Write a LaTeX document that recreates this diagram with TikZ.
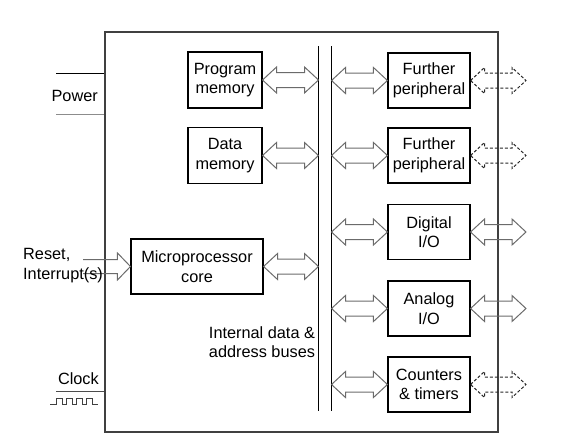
\documentclass[tikz,border=0pt]{standalone}
\usepackage{fontspec}
\setmainfont{Liberation Sans}
\usetikzlibrary{calc}
\newcommand{\dbl}[3][]{\draw[fat,#1] let \p1=#2, \p2=#3 in
  (\x1,\y1) -- ++(14pt,13pt) -- ++(0,-5.5pt) -- (\x2-14pt,\y1+7.5pt) -- ++(0,5.5pt)
  -- (\x2,\y1) -- ++(-14pt,-13pt) -- ++(0,5.5pt) -- (\x1+14pt,\y1-7.5pt) -- ++(0,-5.5pt) -- cycle;}
\tikzset{
  box/.style={draw=black, line width=1.1pt, minimum width=74pt, minimum height=56pt,
    align=center, inner sep=1pt, font=\fontsize{16.3}{19.5}\selectfont},
  rbox/.style={box, minimum width=82pt, minimum height=55pt},
  lbl/.style={font=\fontsize{16.3}{19.5}\selectfont, inner sep=0pt},
  fat/.style={draw=black!58, line width=1pt, line join=miter},
  dsh/.style={draw=black!85, dash pattern=on 3pt off 2pt},
  bus/.style={line width=1pt, black},
}
\begin{document}
\begin{tikzpicture}[x=1pt,y=-1pt]
\useasboundingbox (0,0) rectangle (571,445);
% outer chip
\node[draw=black!75, line width=1.5pt, minimum width=393pt, minimum height=400pt, inner sep=0pt] (chip) at (301.5,232) {};
% bus lines
\coordinate (bLt) at (318.5,46); \coordinate (bLb) at (318.5,411);
\coordinate (bRt) at (331.5,46); \coordinate (bRb) at (331.5,411);
\draw[bus] (bLt) -- (bLb);
\draw[bus] (bRt) -- (bRb);
% left boxes
\node[box] (pm) at (225,80) {Program\\memory};
\node[box] (dm) at (225,155.5) {Data\\memory};
\node[box, minimum width=132pt, minimum height=55pt] (core) at (197,266.5) {Microprocessor\\core};
% right boxes
\node[rbox] (fp1) at (429,80.5) {Further\\peripheral};
\node[rbox] (fp2) at (429,155.5) {Further\\peripheral};
\node[rbox] (dio) at (429,232) {Digital\\I/O};
\node[rbox] (aio) at (429,308.5) {Analog\\I/O};
\node[rbox] (ct) at (429,384.5) {Counters\\\& timers};
% internal arrows
\dbl{(pm.east)}{(bLt |- pm.east)}
\dbl{(dm.east)}{(bLt |- dm.east)}
\dbl{(core.east)}{(bLt |- core.east)}
\dbl{(bRt |- fp1.west)}{(fp1.west)}
\dbl{(bRt |- fp2.west)}{(fp2.west)}
\dbl{(bRt |- dio.west)}{(dio.west)}
\dbl{(bRt |- aio.west)}{(aio.west)}
\dbl{(bRt |- ct.west)}{(ct.west)}
% external arrows
\coordinate (ex) at (526,0);
\dbl[dsh]{(fp1.east)}{(ex |- fp1.east)}
\dbl[dsh]{(fp2.east)}{(ex |- fp2.east)}
\dbl{(dio.east)}{(ex |- dio.east)}
\dbl{(aio.east)}{(ex |- aio.east)}
\dbl[dsh]{(ct.east)}{(ex |- ct.east)}
% bus label
\node[lbl, align=center] (buslbl) at (262,342) {Internal data \&\\address buses};
% power
\coordinate (pw1) at (56,73);
\coordinate (pw2) at (56,114.5);
\draw[black, line width=0.9pt] (pw1) -- (pw1 -| chip.west);
\draw[black!45, line width=1.4pt] (pw2) -- (pw2 -| chip.west);
\node[lbl, anchor=base east] (pwl) at (98,101) {Power};
% reset
\coordinate (rin) at (83,266.5);
\draw[fat] let \p1=(rin), \p2=(core.west) in
  (\x1,\y1+7pt) -- (\x2-13pt,\y1+7pt) -- (\x2-13pt,\y1+13.5pt) -- (\x2,\y1)
  -- (\x2-13pt,\y1-13.5pt) -- (\x2-13pt,\y1-7pt) -- (\x1,\y1-7pt);
\node[lbl, anchor=base west, align=left] (rst) at (23,279) {Reset,\\Interrupt(s)};
% clock
\coordinate (ck) at (56,391);
\draw[black!70, line width=0.9pt] (ck) -- (ck -| chip.west);
\node[lbl, anchor=base east] (ckl) at (99,384) {Clock};
\coordinate (wv) at (50,404);
\draw[black!75, line width=0.8pt] (wv) -- ++(6,0) -- ++(0,-6) -- ++(6,0) -- ++(0,6) -- ++(4,0)
  -- ++(0,-6) -- ++(6,0) -- ++(0,6) -- ++(4,0) -- ++(0,-6) -- ++(6,0) -- ++(0,6) -- ++(4,0)
  -- ++(0,-6) -- ++(6,0) -- ++(0,6) -- ++(6,0);
\end{tikzpicture}
\end{document}
